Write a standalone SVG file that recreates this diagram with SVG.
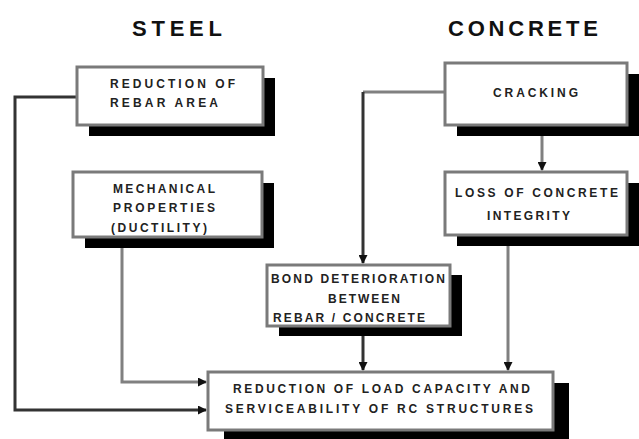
<svg xmlns="http://www.w3.org/2000/svg" width="639" height="439" viewBox="0 0 639 439">
<style>
.box{fill:#fff;stroke:#7a7a7a;stroke-width:3}
.sh{fill:#000}
.t{font-family:"Liberation Sans",Arial,sans-serif;font-weight:bold;font-size:12px;fill:#222}
.title{font-family:"Liberation Sans",Arial,sans-serif;font-weight:bold;font-size:22px;fill:#111}
.c{fill:none;stroke-width:3}
.dk{stroke:#333}
.gr{stroke:#808080}
</style>
<defs>
<marker id="ar" markerUnits="userSpaceOnUse" markerWidth="9" markerHeight="9" refX="8" refY="4.5" orient="auto">
<path d="M0,0 L9,4.5 L0,9 Z" fill="#111"/>
</marker>
</defs>
<rect width="639" height="439" fill="#fff"/>
<text class="title" x="132" y="36" textLength="90" lengthAdjust="spacing">STEEL</text>
<text class="title" x="448" y="36" textLength="150" lengthAdjust="spacing">CONCRETE</text>
<g id="connectors">
<path class="c dk" d="M77,97 H15 V410 H206" marker-end="url(#ar)"/>
<path class="c gr" d="M122,248 V382 H206" marker-end="url(#ar)"/>
<path class="c gr" d="M445,92 H363"/>
<path class="c dk" d="M363,92 V263" marker-end="url(#ar)"/>
<path class="c gr" d="M542,136 V170" marker-end="url(#ar)"/>
<path class="c gr" d="M508,246 V370" marker-end="url(#ar)"/>
<path class="c dk" d="M363,335 V370" marker-end="url(#ar)"/>
</g>
<g id="n1">
<rect class="sh" x="89" y="78" width="186" height="58"/>
<rect class="box" x="77" y="67" width="186" height="58"/>
<text class="t" x="110" y="88" textLength="125" lengthAdjust="spacing">REDUCTION OF</text>
<text class="t" x="110" y="107" textLength="108" lengthAdjust="spacing">REBAR AREA</text>
</g>
<g id="n2">
<rect class="sh" x="85" y="183" width="189" height="65"/>
<rect class="box" x="73" y="172" width="189" height="65"/>
<text class="t" x="113" y="193" textLength="102" lengthAdjust="spacing">MECHANICAL</text>
<text class="t" x="113" y="212" textLength="102" lengthAdjust="spacing">PROPERTIES</text>
<text class="t" x="111" y="232" textLength="96" lengthAdjust="spacing">(DUCTILITY)</text>
</g>
<g id="n3">
<rect class="sh" x="457" y="74" width="182" height="62"/>
<rect class="box" x="445" y="63" width="182" height="62"/>
<text class="t" x="493" y="97" textLength="85" lengthAdjust="spacing">CRACKING</text>
</g>
<g id="n4">
<rect class="sh" x="457" y="183" width="182" height="63"/>
<rect class="box" x="445" y="172" width="182" height="63"/>
<text class="t" x="455" y="197" textLength="163" lengthAdjust="spacing">LOSS OF CONCRETE</text>
<text class="t" x="487" y="220" textLength="83" lengthAdjust="spacing">INTEGRITY</text>
</g>
<g id="n5">
<rect class="sh" x="279" y="275" width="183" height="61"/>
<rect class="box" x="267" y="265" width="183" height="61"/>
<text class="t" x="271" y="283" textLength="174" lengthAdjust="spacing">BOND DETERIORATION</text>
<text class="t" x="328" y="303" textLength="72" lengthAdjust="spacing">BETWEEN</text>
<text class="t" x="273" y="322" textLength="152" lengthAdjust="spacing">REBAR / CONCRETE</text>
</g>
<g id="n6">
<rect class="sh" x="224" y="383" width="345" height="58"/>
<rect class="box" x="208" y="372" width="345" height="58"/>
<text class="t" x="233" y="393" textLength="297" lengthAdjust="spacing">REDUCTION OF LOAD CAPACITY AND</text>
<text class="t" x="225" y="413" textLength="308" lengthAdjust="spacing">SERVICEABILITY OF RC STRUCTURES</text>
</g>
</svg>
